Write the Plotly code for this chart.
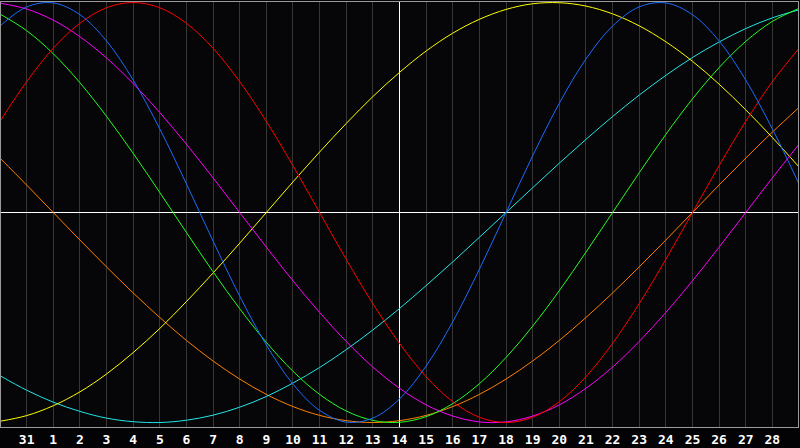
import plotly.graph_objects as go

# day index 0..30 (0 = Jan 30, 1 = Jan 31, 2 = Feb 1, ... 29 = Feb 28)
days = list(range(31))
tick_pos = list(range(1, 30))
tick_text = ["31"] + [str(d) for d in range(1, 29)]

blue = [0.888, 0.979, 0.998, 0.942, 0.817, 0.631, 0.398, 0.136, -0.136, -0.398, -0.631, -0.817,
        -0.942, -0.998, -0.979, -0.888, -0.731, -0.520, -0.270, 0.0, 0.270, 0.520, 0.731, 0.888,
        0.979, 0.998, 0.942, 0.817, 0.631, 0.398, 0.136]
red = [0.434, 0.623, 0.782, 0.901, 0.975, 1.0, 0.975, 0.901, 0.782, 0.623, 0.434, 0.223, 0.0,
       -0.223, -0.434, -0.623, -0.782, -0.901, -0.975, -1.0, -0.975, -0.901, -0.782, -0.623,
       -0.434, -0.223, 0.0, 0.223, 0.434, 0.623, 0.782]
green = [0.945, 0.866, 0.756, 0.618, 0.458, 0.282, 0.095, -0.095, -0.282, -0.458, -0.618, -0.756,
         -0.866, -0.945, -0.990, -0.999, -0.972, -0.910, -0.815, -0.690, -0.541, -0.372, -0.189,
         0.0, 0.189, 0.372, 0.541, 0.690, 0.815, 0.910, 0.972]
magenta = [0.997, 0.969, 0.916, 0.837, 0.736, 0.614, 0.476, 0.325, 0.165, -0.0, -0.165, -0.325,
           -0.476, -0.614, -0.736, -0.837, -0.916, -0.969, -0.997, -0.997, -0.969, -0.916, -0.837,
           -0.736, -0.614, -0.476, -0.325, -0.165, 0.0, 0.165, 0.325]
yellow = [-0.994, -0.967, -0.92, -0.854, -0.769, -0.667, -0.552, -0.424, -0.288, -0.146, 0.0, 0.146,
          0.288, 0.424, 0.552, 0.667, 0.769, 0.854, 0.92, 0.967, 0.994, 0.999, 0.983, 0.946, 0.889,
          0.813, 0.72, 0.611, 0.489, 0.357, 0.217]
cyan = [-0.777, -0.846, -0.903, -0.947, -0.979, -0.996, -1.0, -0.989, -0.965, -0.927, -0.876, -0.812,
        -0.738, -0.653, -0.559, -0.457, -0.348, -0.235, -0.118, 0.0, 0.118, 0.235, 0.348, 0.457,
        0.559, 0.653, 0.738, 0.812, 0.876, 0.927, 0.965]
orange = [0.259, 0.131, -0.0, -0.131, -0.259, -0.383, -0.5, -0.609, -0.707, -0.793, -0.866, -0.924,
          -0.966, -0.991, -1.0, -0.991, -0.966, -0.924, -0.866, -0.793, -0.707, -0.609, -0.5, -0.383,
          -0.259, -0.131, 0.0, 0.131, 0.259, 0.383, 0.5]

series = [orange, cyan, yellow, magenta, green, red, blue]
colors = ["#ff8000", "#22e6e6", "#ffff00", "#ff00ff", "#22ff22", "#ff0000", "#1a6cff"]

fig = go.Figure()
for c, vals in zip(colors, series):
    fig.add_trace(go.Scatter(x=days, y=vals, mode="lines",
                             line=dict(color=c, width=1, shape="spline"), hoverinfo="skip"))

frame = "#9a9a9a"
fig.update_layout(width=800, height=448, margin=dict(l=1, r=1, t=1, b=20, pad=0),
                  paper_bgcolor="#030305", plot_bgcolor="#060608", showlegend=False)
fig.update_xaxes(range=[0.0375, 29.9625], tickvals=tick_pos, ticktext=tick_text, showgrid=True,
                 gridcolor="#363636", gridwidth=1, zeroline=False,
                 showline=True, linecolor=frame, linewidth=1, mirror=True, ticks="",
                 tickfont=dict(family="DejaVu Sans Mono", size=13, color="white", weight="bold"))
fig.update_yaxes(range=[-1.0213, 1.0024], showticklabels=False, showgrid=False,
                 zeroline=True, zerolinecolor="white", zerolinewidth=1,
                 showline=True, linecolor=frame, linewidth=1, mirror=True)
# second x axis whose zero sits on "today" (day 14) to draw the white vertical marker
fig.update_layout(xaxis2=dict(overlaying="x", range=[0.0375 - 15, 29.9625 - 15], showgrid=False,
                              showticklabels=False, zeroline=True, zerolinecolor="white",
                              zerolinewidth=1, showline=False, ticks=""))
fig.add_trace(go.Scatter(x=[0], y=[0], xaxis="x2", mode="markers", marker=dict(opacity=0),
                         hoverinfo="skip"))
fig.write_html("out.html", config={"displayModeBar": False},
               post_script="document.body.style.margin='0';document.body.style.overflow='hidden';")
